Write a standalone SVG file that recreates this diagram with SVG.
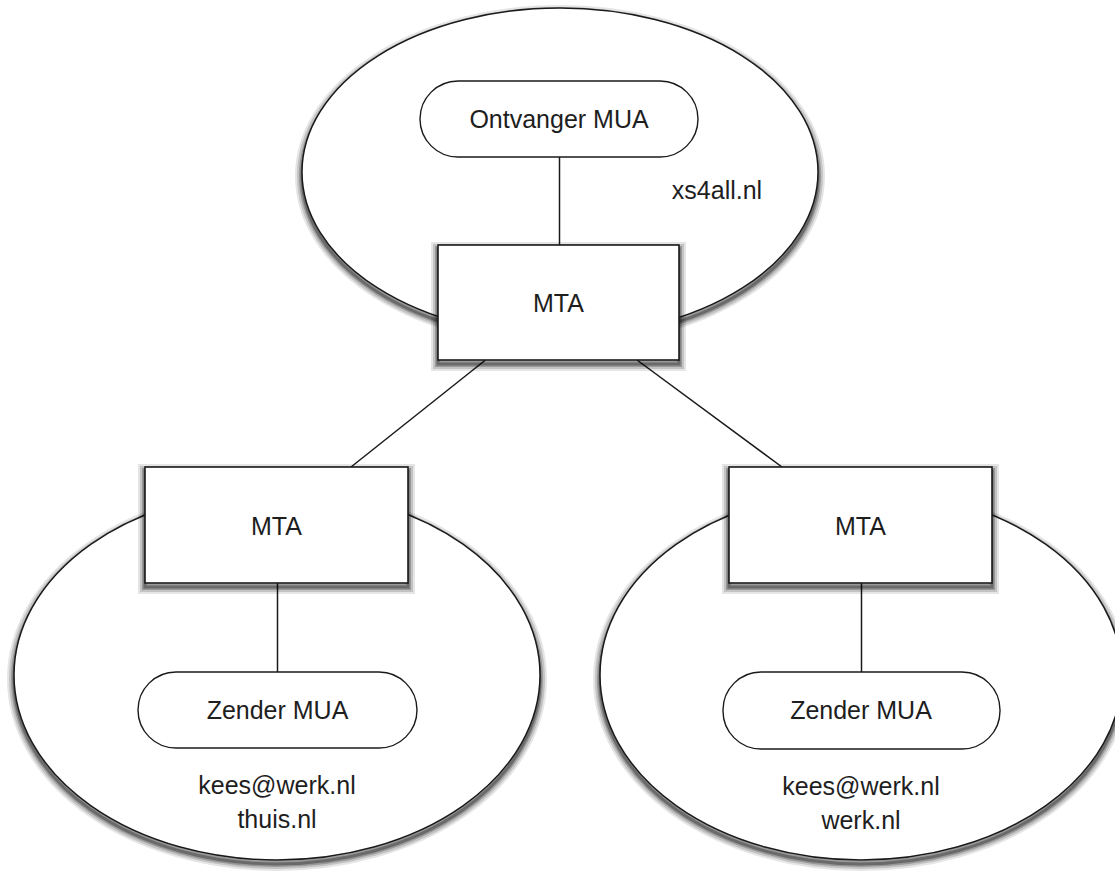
<svg xmlns="http://www.w3.org/2000/svg" xmlns:xlink="http://www.w3.org/1999/xlink" width="1115" height="875" viewBox="0 0 1115 875">
<defs>
<ellipse id="e-top" cx="560" cy="172" rx="258" ry="164"/>
<ellipse id="e-left" cx="277" cy="675" rx="263" ry="185"/>
<ellipse id="e-right" cx="861" cy="675" rx="261" ry="185"/>
<rect id="r-top" x="438" y="245" width="241" height="115"/>
<rect id="r-left" x="145" y="467" width="263" height="116"/>
<rect id="r-right" x="729" y="467" width="263" height="116"/>
<style>
.s1,.s2,.s3,.s4{fill:none;stroke:#000}
.s1{stroke-width:14;stroke-opacity:.1}
.s2{stroke-width:10;stroke-opacity:.15}
.s3{stroke-width:6;stroke-opacity:.22}
.s4{stroke-width:3;stroke-opacity:.3}
.dom{fill:#fff;stroke:#1a1a1a;stroke-width:1.5}
.mta{fill:#fff;stroke:#1a1a1a;stroke-width:1.6}
.mua{fill:#fff;stroke:#1a1a1a;stroke-width:1.4}
.ln{stroke:#1a1a1a;stroke-width:1.5;fill:none}
text{font-family:"Liberation Sans",Arial,Helvetica,sans-serif;font-size:25px;fill:#1e1e1e;text-anchor:middle}
</style>
</defs>
<rect width="1115" height="875" fill="#fff"/>
<g id="domain-xs4all">
<g transform="translate(0,4)"><use xlink:href="#e-top" class="s1"/><use xlink:href="#e-top" class="s2"/><use xlink:href="#e-top" class="s3"/><use xlink:href="#e-top" class="s4"/></g>
<use xlink:href="#e-top" class="dom"/>
<text x="717" y="199">xs4all.nl</text>
</g>
<g id="domain-thuis">
<g transform="translate(0,4)"><use xlink:href="#e-left" class="s1"/><use xlink:href="#e-left" class="s2"/><use xlink:href="#e-left" class="s3"/><use xlink:href="#e-left" class="s4"/></g>
<use xlink:href="#e-left" class="dom"/>
<text x="277" y="794">kees@werk.nl</text>
<text x="277" y="828">thuis.nl</text>
</g>
<g id="domain-werk">
<g transform="translate(0,4)"><use xlink:href="#e-right" class="s1"/><use xlink:href="#e-right" class="s2"/><use xlink:href="#e-right" class="s3"/><use xlink:href="#e-right" class="s4"/></g>
<use xlink:href="#e-right" class="dom"/>
<text x="861" y="795">kees@werk.nl</text>
<text x="861" y="829">werk.nl</text>
</g>
<g id="connectors">
<line class="ln" x1="559.5" y1="157" x2="559.5" y2="245"/>
<line class="ln" x1="485.5" y1="360" x2="351" y2="467"/>
<line class="ln" x1="637" y1="360" x2="782" y2="467"/>
<line class="ln" x1="277.5" y1="583" x2="277.5" y2="672"/>
<line class="ln" x1="861.5" y1="583" x2="861.5" y2="672"/>
</g>
<g id="mua-ontvanger">
<rect class="mua" x="420" y="81" width="278" height="76" rx="38" ry="38"/>
<text x="559" y="128">Ontvanger MUA</text>
</g>
<g id="mta-top">
<g transform="translate(0,4)"><use xlink:href="#r-top" class="s1"/><use xlink:href="#r-top" class="s2"/><use xlink:href="#r-top" class="s3"/><use xlink:href="#r-top" class="s4"/></g>
<use xlink:href="#r-top" class="mta"/>
<text x="558.5" y="312">MTA</text>
</g>
<g id="mta-left">
<g transform="translate(0,4)"><use xlink:href="#r-left" class="s1"/><use xlink:href="#r-left" class="s2"/><use xlink:href="#r-left" class="s3"/><use xlink:href="#r-left" class="s4"/></g>
<use xlink:href="#r-left" class="mta"/>
<text x="276.5" y="535">MTA</text>
</g>
<g id="mta-right">
<g transform="translate(0,4)"><use xlink:href="#r-right" class="s1"/><use xlink:href="#r-right" class="s2"/><use xlink:href="#r-right" class="s3"/><use xlink:href="#r-right" class="s4"/></g>
<use xlink:href="#r-right" class="mta"/>
<text x="860.5" y="535">MTA</text>
</g>
<g id="mua-zender-left">
<rect class="mua" x="138" y="672" width="279" height="76" rx="38" ry="38"/>
<text x="277.5" y="719">Zender MUA</text>
</g>
<g id="mua-zender-right">
<rect class="mua" x="723" y="672" width="277" height="77" rx="38" ry="38"/>
<text x="861" y="719">Zender MUA</text>
</g>
</svg>
